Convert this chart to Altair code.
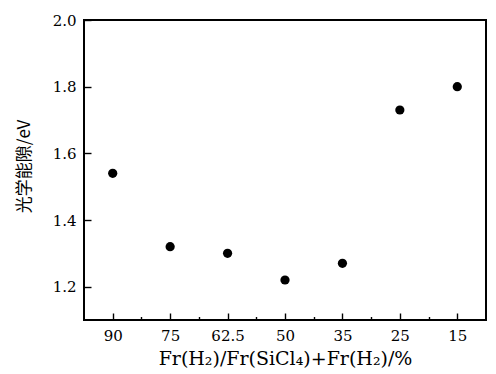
import json
import altair as alt
import pandas as pd

# data
categories = ["90", "75", "62.5", "50", "35", "25", "15"]
band_gap = [1.54, 1.32, 1.30, 1.22, 1.27, 1.73, 1.80]
y_ticks = [1.2, 1.4, 1.6, 1.8, 2.0]

idx = list(range(len(categories)))
minor_pos = [k + 0.5 for k in idx[:-1]]
df = pd.DataFrame({"i": idx, "cat": categories, "eg": band_gap})
minor_df = pd.DataFrame({"i": minor_pos})

W, H = 402, 300
SERIF = "DejaVu Serif"
CJK = "Noto Sans CJK SC"

label_expr = json.dumps(categories) + "[round(datum.value)]"

xscale = alt.Scale(domain=[-0.5, len(categories) - 0.5], nice=False, zero=False)
yscale = alt.Scale(domain=[1.1, 2.0], nice=False, zero=False)

xaxis = alt.Axis(values=idx, labelExpr=label_expr, ticks=True, tickSize={"expr": "-7"},
                 tickColor="black", tickWidth=1.4, domain=False, grid=False, orient="bottom",
                 labelFont=SERIF, labelFontSize=15, labelColor="black", labelPadding=15,
                 title="Fr(H₂)/Fr(SiCl₄)+Fr(H₂)/%", titleFont=SERIF, titleFontSize=19,
                 titleFontWeight="normal", titleColor="black", titleY=29)
minor_axis = alt.Axis(values=minor_pos, labels=False, ticks=True, tickSize={"expr": "-3.5"},
                      tickColor="black", tickWidth=1.4, domain=False, grid=False, orient="bottom",
                      title=None)
yaxis = alt.Axis(values=y_ticks, format=".1f", ticks=True, tickSize={"expr": "-7"},
                 tickColor="black", tickWidth=1.4, domain=False, grid=False,
                 labelFont=SERIF, labelFontSize=15, labelColor="black", labelPadding=15,
                 title="光学能隙/eV", titleFont=CJK, titleFontSize=17,
                 titleFontWeight="normal", titleColor="black", titleX=-51, titleY=146)

points = alt.Chart(df).mark_point(filled=True, color="black", size=85, opacity=1).encode(
    x=alt.X("i:Q", scale=xscale, axis=xaxis, title="Fr(H₂)/Fr(SiCl₄)+Fr(H₂)/%"),
    y=alt.Y("eg:Q", scale=yscale, axis=yaxis, title="光学能隙/eV"),
)

minor = alt.Chart(minor_df).mark_point(opacity=0).encode(
    x=alt.X("i:Q", scale=xscale, axis=minor_axis, title=None),
)

chart = alt.layer(points, minor).resolve_axis(x="independent").properties(
    width=W, height=H,
    autosize=alt.AutoSizeParams(type="none"),
    padding={"left": 76, "top": 12, "right": 2, "bottom": 54},
    background="white",
).configure_view(stroke="#000000", strokeWidth=2)

chart.save("out.html", embed_options={"renderer": "svg", "actions": False})
